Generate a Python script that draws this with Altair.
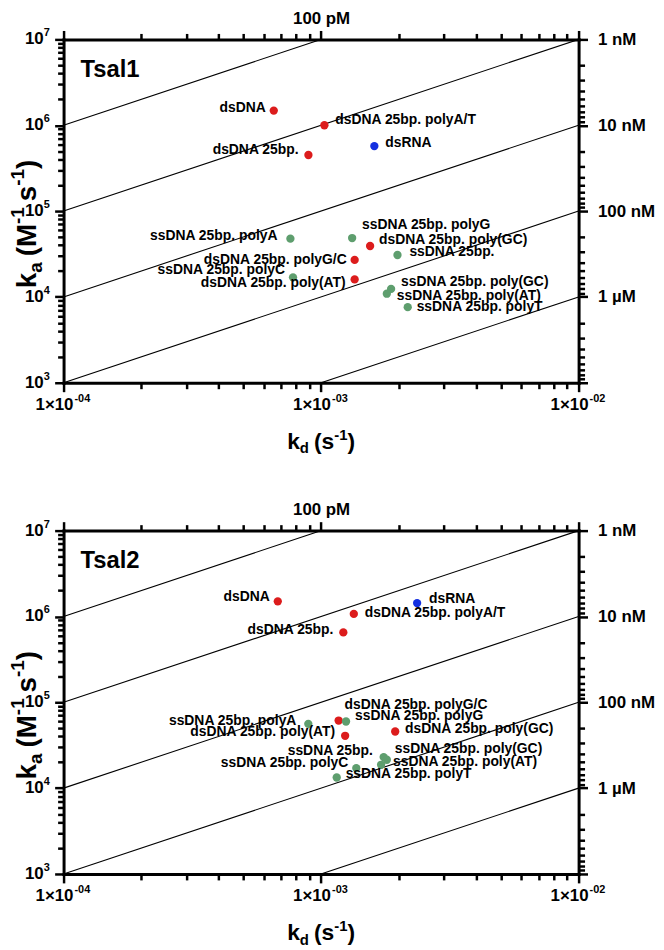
import altair as alt
import pandas as pd

# ---------------- data ----------------
types_order = ["dsDNA", "dsRNA", "ssDNA"]
type_colors = ["#dc1c1c", "#1430e0", "#5e9e6e"]

t1_labels = ["dsDNA", "dsDNA 25bp. polyA/T", "dsDNA 25bp.", "dsRNA",
             "ssDNA 25bp. polyA", "ssDNA 25bp. polyG", "dsDNA 25bp. poly(GC)",
             "ssDNA 25bp.", "dsDNA 25bp. polyG/C", "ssDNA 25bp. polyC",
             "dsDNA 25bp. poly(AT)", "ssDNA 25bp. poly(GC)", "ssDNA 25bp. poly(AT)",
             "ssDNA 25bp. polyT"]
t1_kd = [6.55e-4, 1.03e-3, 8.93e-4, 1.61e-3, 7.60e-4, 1.32e-3, 1.55e-3,
         1.98e-3, 1.35e-3, 7.78e-4, 1.35e-3, 1.87e-3, 1.80e-3, 2.17e-3]
t1_ka = [1.48e6, 1.0e6, 4.5e5, 5.72e5, 4.77e4, 4.85e4, 3.92e4,
         3.08e4, 2.70e4, 1.69e4, 1.60e4, 1.24e4, 1.09e4, 7.6e3]
t1_type = ["dsDNA", "dsDNA", "dsDNA", "dsRNA", "ssDNA", "ssDNA", "dsDNA",
           "ssDNA", "dsDNA", "ssDNA", "dsDNA", "ssDNA", "ssDNA", "ssDNA"]
# label placement: text alignment and nudge (px)
t1_side = ["right", "left", "right", "left", "right", "left", "left",
           "left", "right", "right", "right", "left", "left", "left"]
t1_dx = [-8, 11, -10, 11, -13, 10, 9, 12, -8, -8, -9, 10, 10, 9]
t1_dy = [-3, -5, -5, -3, -3, -13, -6, -3, 0, -7, 4, -7, 2, 0]

t2_labels = ["dsDNA", "dsDNA 25bp.", "dsDNA 25bp. polyA/T", "dsRNA",
             "ssDNA 25bp. polyA", "dsDNA 25bp. polyG/C", "ssDNA 25bp. polyG",
             "dsDNA 25bp. poly(AT)", "dsDNA 25bp. poly(GC)", "ssDNA 25bp.",
             "ssDNA 25bp. poly(GC)", "ssDNA 25bp. poly(AT)", "ssDNA 25bp. polyC",
             "ssDNA 25bp. polyT"]
t2_kd = [6.79e-4, 1.22e-3, 1.34e-3, 2.36e-3, 8.92e-4, 1.17e-3, 1.25e-3,
         1.24e-3, 1.94e-3, 1.75e-3, 1.80e-3, 1.71e-3, 1.37e-3, 1.15e-3]
t2_ka = [1.50e6, 6.52e5, 1.07e6, 1.43e6, 5.61e4, 6.13e4, 5.97e4,
         4.07e4, 4.57e4, 2.30e4, 2.14e4, 1.87e4, 1.71e4, 1.33e4]
t2_type = ["dsDNA", "dsDNA", "dsDNA", "dsRNA", "ssDNA", "dsDNA", "ssDNA",
           "dsDNA", "dsDNA", "ssDNA", "ssDNA", "ssDNA", "ssDNA", "ssDNA"]
t2_side = ["right", "right", "left", "left", "right", "left", "left",
           "right", "left", "right", "left", "left", "right", "left"]
t2_dx = [-8, -10, 11, 12, -12, 6, 9, -10, 10, -11, 8, 12, -8, 9]
t2_dy = [-4, -2, -1, -4, -3, -16, -6, -4, -2, -6, -11, -3, -5, -3]

# iso-affinity lines (KD in M) and their kd end points
iso_KD = [1e-10, 1e-9, 1e-8, 1e-7, 1e-6]
iso_kd_ends = [1e-4, 1e-2]

# axis ticks and labels
kd_ticks = [k * 10.0 ** d for d in (-4, -3) for k in range(1, 10)] + [1e-2]
ka_ticks = [k * 10.0 ** d for d in (3, 4, 5, 6) for k in range(1, 10)] + [1e7]
KD_nM_ticks = [k * 10.0 ** d for d in (0, 1, 2, 3) for k in range(1, 10)] + [1e4]
kd_major = [1e-4, 1e-3, 1e-2]
kd_major_base = ["1×10", "1×10", "1×10"]
kd_major_exp = ["-04", "-03", "-02"]
ka_major = [1e3, 1e4, 1e5, 1e6, 1e7]
ka_major_base = ["10", "10", "10", "10", "10"]
ka_major_exp = ["3", "4", "5", "6", "7"]

# ---------------- styling ----------------
FONT = "Liberation Sans"
W, H = 519, 346

xs = alt.Scale(type="log", domain=[1e-4, 1e-2], nice=False)
ys = alt.Scale(type="log", domain=[1e3, 1e7], nice=False)

MAJOR = "abs(log(datum.value)/LN10 - round(log(datum.value)/LN10)) < 0.01"


def make_axis(orient, values, expr, pad, labels=True):
    return alt.Axis(
        orient=orient, values=values, labelExpr=expr, labels=labels, title=None, grid=False,
        domainColor="black", domainWidth=3, domainCap="square",
        tickColor="black", tickWidth=2.5,
        tickSize={"condition": {"test": MAJOR, "value": 9}, "value": 6},
        labelFont=FONT, labelFontSize=17, labelFontWeight="bold",
        labelColor="black", labelPadding=pad, labelOverlap=False,
        labelFlush=False, labelBound=False)


top_expr = "abs(datum.value-1e-3) < 1e-7 ? '100 pM' : ''"
right_expr = ("round(1e7/datum.value)==1 ? '1 nM' : round(1e7/datum.value)==10 ? '10 nM' : "
              "round(1e7/datum.value)==100 ? '100 nM' : round(1e7/datum.value)==1000 ? '1 µM' : ''")

ax_bottom = make_axis("bottom", kd_ticks, "''", 4, labels=False)
ax_top = make_axis("top", kd_ticks, top_expr, 3)
ax_left = make_axis("left", ka_ticks, "''", 4, labels=False)
ax_right = make_axis("right", [1e7 / v for v in KD_nM_ticks], right_expr, 10)

CW = {'k': .556, 'd': .611, 'a': .556, '(': .333, ')': .333,
      's': .556, 'M': .833, '-': .333, '1': .556}


def title_layers(parts, x0, y0, vertical):
    """parts: (text, size, baseline shift) or ('', gap, 0) for a gap."""
    layers = []
    pos = 0.0
    for txt, size, shift in parts:
        if txt == "":
            pos += size
            continue
        if vertical:
            enc = dict(x=alt.value(x0 + shift), y=alt.value(y0 - pos))
            mk = dict(angle=270)
        else:
            enc = dict(x=alt.value(x0 + pos), y=alt.value(y0 + shift))
            mk = {}
        layers.append(
            alt.Chart(pd.DataFrame({"a": [0]})).mark_text(
                text=txt, font=FONT, fontSize=size, fontWeight="bold",
                color="black", align="left", baseline="alphabetic", **mk
            ).encode(**enc))
        pos += sum(CW[c] for c in txt) * size
    return layers, pos


def panel(name, labels, kd, ka, typ, side, dx, dy):
    df = pd.DataFrame({"kd": kd, "ka": ka, "type": typ, "label": labels,
                       "side": side, "dx": dx, "dy": dy})
    rows = []
    for K in iso_KD:
        for e in iso_kd_ends:
            rows.append({"KD": str(K), "kd": e, "ka": e / K})
    ldf = pd.DataFrame(rows)
    xl_df = pd.DataFrame({"kd": kd_major, "b": kd_major_base, "e": kd_major_exp})
    yl_df = pd.DataFrame({"ka": ka_major, "b": ka_major_base, "e": ka_major_exp})

    lines = alt.Chart(ldf).mark_line(color="black", strokeWidth=1.1, clip=True).encode(
        x=alt.X("kd:Q", scale=xs, axis=ax_top),
        y=alt.Y("ka:Q", scale=ys, axis=ax_right),
        detail="KD:N")
    points = alt.Chart(df).mark_circle(size=70, opacity=1).encode(
        x=alt.X("kd:Q", scale=xs, axis=ax_bottom),
        y=alt.Y("ka:Q", scale=ys, axis=ax_left),
        color=alt.Color("type:N", scale=alt.Scale(domain=types_order, range=type_colors),
                        legend=None))
    texts = alt.Chart(df).mark_text(
        font=FONT, fontSize=14, fontWeight="bold", color="black", baseline="middle",
        align=alt.expr("datum.side"), dx=alt.expr("datum.dx"), dy=alt.expr("datum.dy")
    ).encode(
        x=alt.X("kd:Q", scale=xs, axis=None),
        y=alt.Y("ka:Q", scale=ys, axis=None),
        text="label:N")

    txt_kw = dict(font=FONT, fontWeight="bold", color="black", baseline="middle")
    xlab_b = alt.Chart(xl_df).mark_text(fontSize=17, align="right", dx=10, **txt_kw).encode(
        x=alt.X("kd:Q", scale=xs, axis=None), y=alt.value(H + 22), text="b:N")
    xlab_e = alt.Chart(xl_df).mark_text(fontSize=11, align="left", dx=11, **txt_kw).encode(
        x=alt.X("kd:Q", scale=xs, axis=None), y=alt.value(H + 16), text="e:N")
    ylab_b = alt.Chart(yl_df).mark_text(fontSize=17, align="right", dx=-20, **txt_kw).encode(
        x=alt.value(0), y=alt.Y("ka:Q", scale=ys, axis=None), text="b:N")
    ylab_e = alt.Chart(yl_df).mark_text(fontSize=11, align="left", dx=-20, dy=-6, **txt_kw).encode(
        x=alt.value(0), y=alt.Y("ka:Q", scale=ys, axis=None), text="e:N")

    name_txt = alt.Chart(pd.DataFrame({"a": [0]})).mark_text(
        text=name, font=FONT, fontSize=24, fontWeight="bold", color="black",
        align="left", baseline="middle").encode(x=alt.value(17), y=alt.value(31))

    F, f = 23, 15
    xparts = [("k", F, 0), ("d", f, 0.18 * F), ("", 5, 0), ("(", F, 0), ("s", F, 0),
              ("-1", f, -0.42 * F), (")", F, 0)]
    _, xw = title_layers(xparts, 0, 0, False)
    xl, _ = title_layers(xparts, W / 2 - xw / 2, H + 67, False)

    FY, fy = 28, 19
    yparts = [("k", FY, 0), ("a", fy, 0.22 * FY), ("", 6, 0), ("(", FY, 0), ("M", FY, 0),
              ("-1", fy, -0.42 * FY), ("", 6, 0), ("s", FY, 0), ("-1", fy, -0.42 * FY),
              (")", FY, 0)]
    _, yw = title_layers(yparts, 0, 0, True)
    yl, _ = title_layers(yparts, -28, H / 2 + 13 + yw / 2, True)

    return alt.layer(lines, points, texts, xlab_b, xlab_e, ylab_b, ylab_e, name_txt,
                     *xl, *yl).resolve_axis(
        x="independent", y="independent").properties(width=W, height=H)


p1 = panel("Tsal1", t1_labels, t1_kd, t1_ka, t1_type, t1_side, t1_dx, t1_dy)
p2 = panel("Tsal2", t2_labels, t2_kd, t2_ka, t2_type, t2_side, t2_dx, t2_dy)

chart = alt.vconcat(p1, p2, spacing=43).properties(
    padding={"left": 0, "top": -3, "right": 0, "bottom": 0}
).configure_view(stroke=None).configure(background="white")

chart.save("out.html", embed_options={"renderer": "svg", "actions": False})
